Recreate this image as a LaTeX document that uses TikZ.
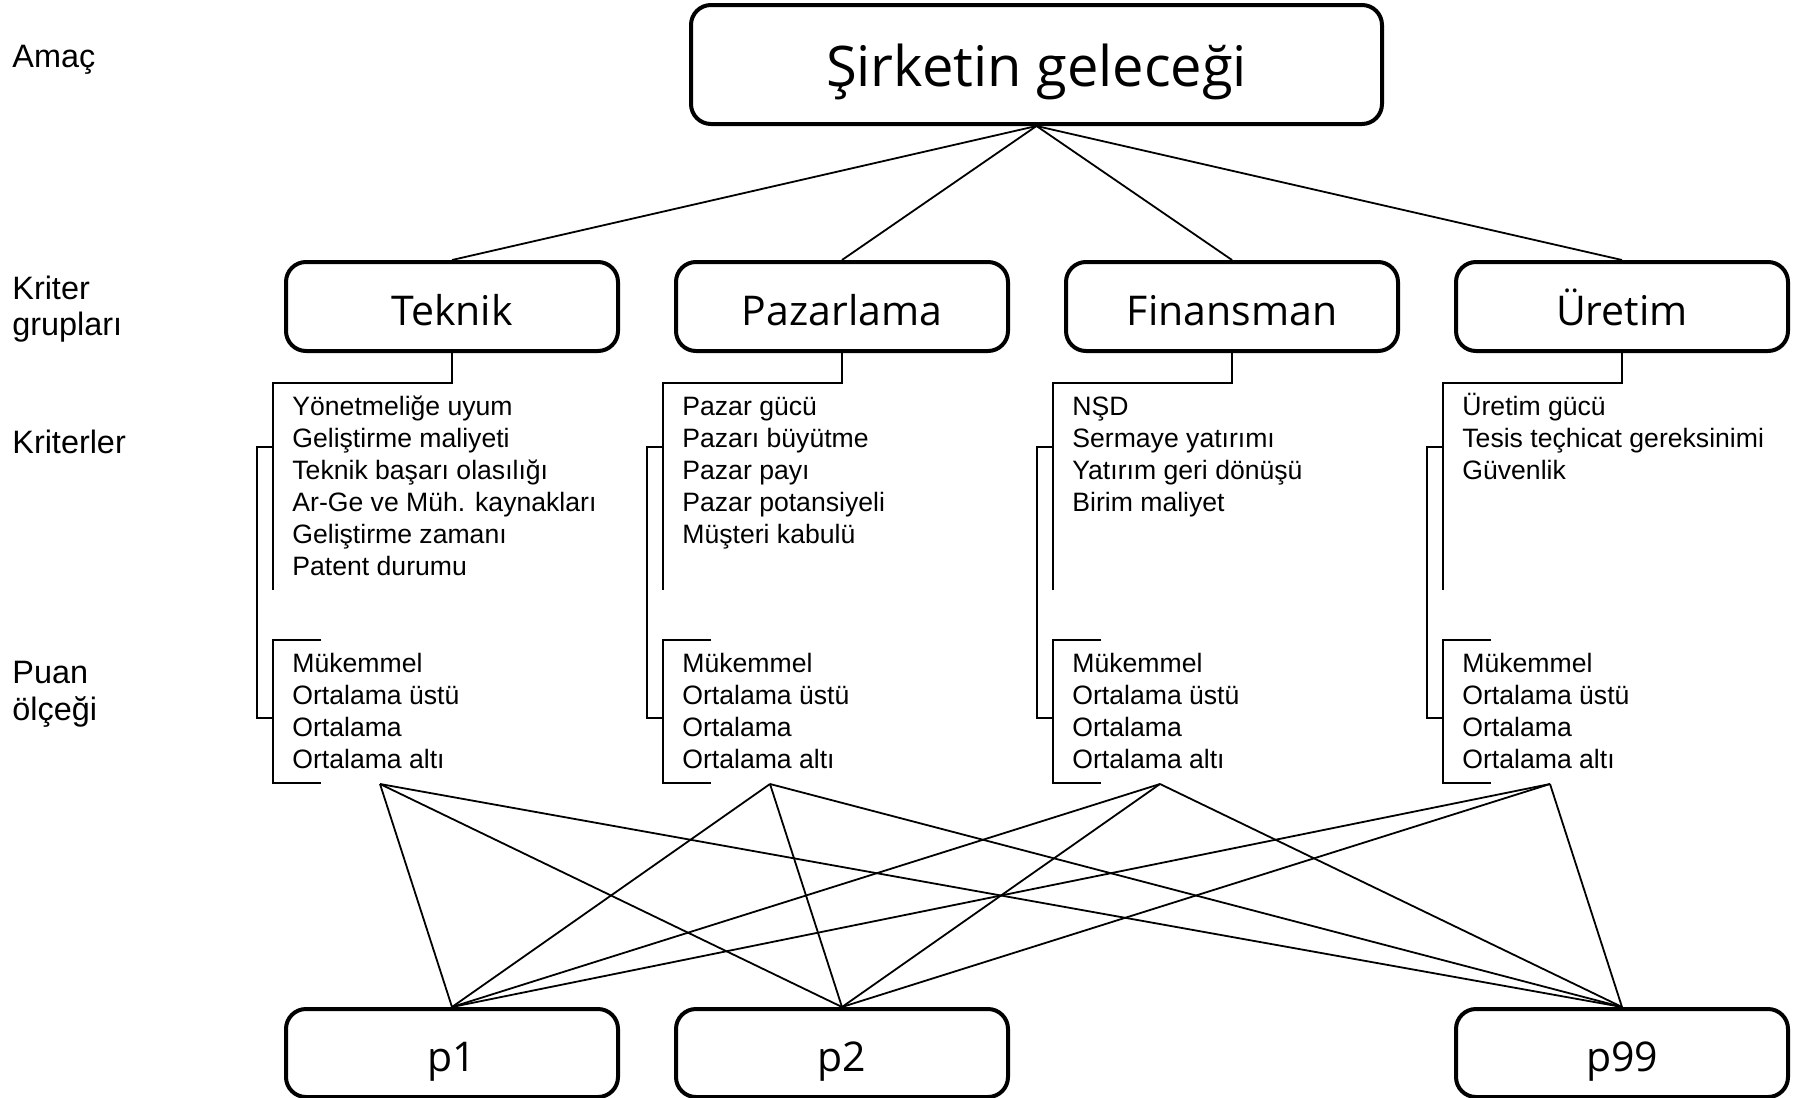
\documentclass[tikz,border=0pt]{standalone}
\usepackage{fontspec}
\setmainfont{Liberation Sans}
\newfontfamily\boxfont{Open Sans}
\begin{document}
\begin{tikzpicture}[x=0.5pt,y=-0.5pt,
  box/.style={draw, line width=2pt, rounded corners=10pt, inner sep=0pt,
    minimum width=166pt, minimum height=44.5pt,
    text height=18.5pt, text depth=0pt,
    font=\boxfont\fontsize{20.5}{24}\selectfont},
  goalbox/.style={box, minimum width=345.5pt, minimum height=59.5pt,
    text height=21.5pt, font=\boxfont\fontsize{28}{32}\selectfont},
  link/.style={line width=0.9pt},
  bracket/.style={line width=1.4pt},
  item/.style={anchor=base west, inner sep=0pt, font=\fontsize{13.3}{16}\selectfont},
  side/.style={anchor=base west, inner sep=0pt, font=\fontsize{16.2}{19}\selectfont}]
\useasboundingbox (0,0) rectangle (1800,1098);

% level labels
\node[side] (lAmac) at (12,67) {Amaç};
\node[side] (lKr1) at (12,299) {Kriter};
\node[side] (lKr2) at (12,335) {grupları};
\node[side] (lKrt) at (12,453) {Kriterler};
\node[side] (lPu1) at (12,683) {Puan};
\node[side] (lPu2) at (12,720) {ölçeği};

% goal and criteria groups
\node[goalbox] (goal) at (1036.5,64.5) {Şirketin geleceği};
\node[box] (tk) at (452,306.5) {Teknik};
\node[box] (pz) at (842,306.5) {Pazarlama};
\node[box] (fn) at (1232,306.5) {Finansman};
\node[box] (ur) at (1622,306.5) {Üretim};

% alternatives
\node[box, minimum height=44pt] (p1) at (452,1053) {p1};
\node[box, minimum height=44pt] (p2) at (842,1053) {p2};
\node[box, minimum height=44pt] (p99) at (1622,1053) {p99};

% goal to groups
\foreach \g in {tk,pz,fn,ur}
  \draw[link] (goal.south) -- (\g.north);

% criteria lists
\foreach \t [count=\k from 0] in {Yönetmeliğe uyum, Geliştirme maliyeti,
    Teknik başarı olasılığı, Ar-Ge ve Müh. kaynakları, Geliştirme zamanı, Patent durumu}
  \node[item] (tkc\k) at (292,415+32*\k) {\t};
\foreach \t [count=\k from 0] in {Pazar gücü, Pazarı büyütme, Pazar payı,
    Pazar potansiyeli, Müşteri kabulü}
  \node[item] (pzc\k) at (682,415+32*\k) {\t};
\foreach \t [count=\k from 0] in {NŞD, Sermaye yatırımı, Yatırım geri dönüşü, Birim maliyet}
  \node[item] (fnc\k) at (1072,415+32*\k) {\t};
\foreach \t [count=\k from 0] in {Üretim gücü, Tesis teçhicat gereksinimi, Güvenlik}
  \node[item] (urc\k) at (1462,415+32*\k) {\t};

% brackets, rating scales and their tie points
\foreach \g [count=\i from 0] in {tk,pz,fn,ur} {
  \draw[bracket] (\g.south) |- ({273+390*\i},383) -- ({273+390*\i},590);
  \draw[bracket] ({321+390*\i},640) -- ({273+390*\i},640)
      -- ({273+390*\i},783) -- ({321+390*\i},783);
  \draw[bracket] ({273+390*\i},447) -- ({257+390*\i},447)
      -- ({257+390*\i},718) -- ({273+390*\i},718);
  \foreach \t [count=\k from 0] in {Mükemmel, Ortalama üstü, Ortalama, Ortalama altı}
    \node[item] (\g r\k) at ({292+390*\i},672+32*\k) {\t};
  \coordinate (\g-rp) at ({380+390*\i},784);
  \foreach \p in {p1,p2,p99}
    \draw[link] (\g-rp) -- (\p.north);
}
\end{tikzpicture}
\end{document}
